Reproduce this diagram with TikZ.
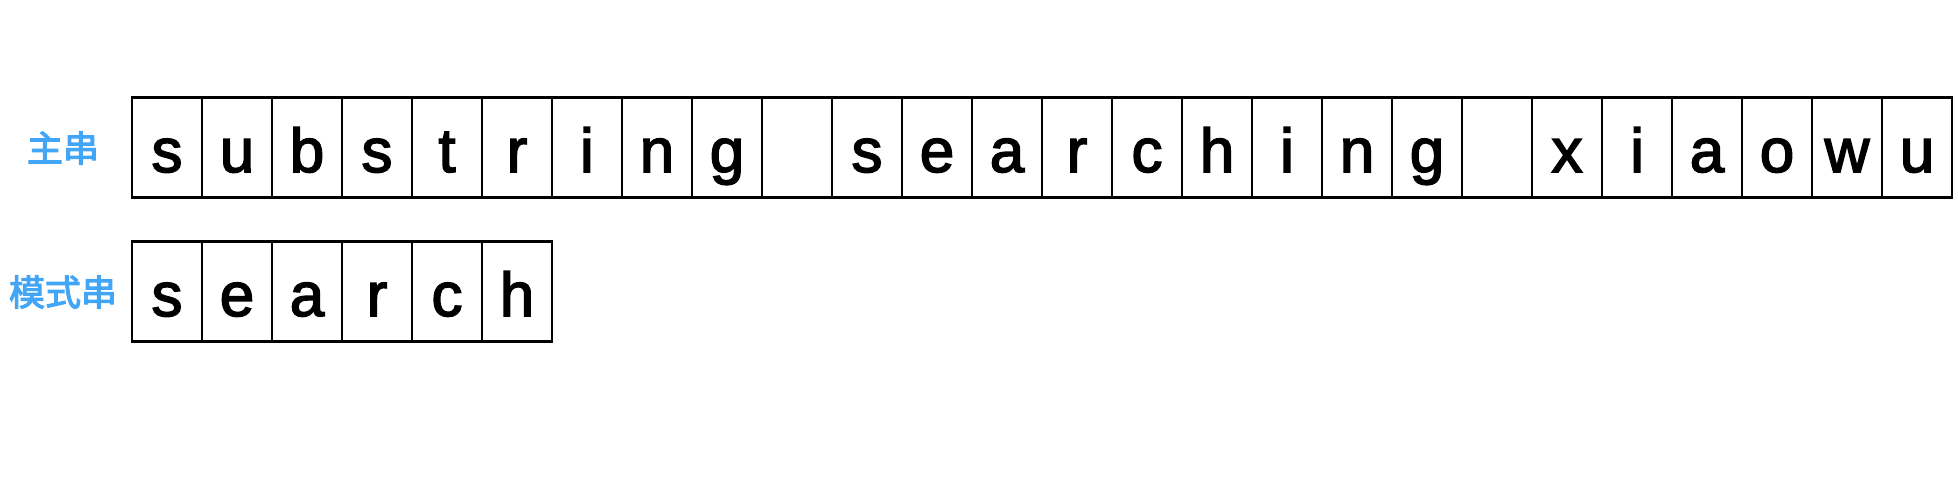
\documentclass[tikz,border=0pt]{standalone}
\usepackage{fontspec}
\setmainfont{Liberation Sans}[FakeBold=2.5]
\newfontfamily\cjk{Noto Sans CJK SC}[FakeBold=3]
\definecolor{labelblue}{RGB}{66,165,245}
\tikzset{
    cell/.style={rectangle,draw=black,line width=2.4pt,minimum width=70pt,inner sep=0,
        text height=74.5pt,text depth=25.5pt,font=\fontsize{62}{62}\selectfont},
    tag/.style={text=labelblue,inner sep=0,font=\cjk\fontsize{36}{36}\selectfont}
}
\begin{document}
\begin{tikzpicture}[x=1pt,y=-1pt]
    \useasboundingbox (0,0) rectangle (1958,486);
    % main string
    \foreach \c [count=\i from 0] in {s,u,b,s,t,r,i,n,g,{},s,e,a,r,c,h,i,n,g,{},x,i,a,o,w,u}
        \node[cell] (main\i) at (167+70*\i,147.5) {\c};
    % pattern
    \foreach \c [count=\i from 0] in {s,e,a,r,c,h}
        \node[cell] (pat\i) at (167+70*\i,291.5) {\c};
    \node[tag] (mainlabel) at (63,148) {主串};
    \node[tag] (patlabel) at (63,292) {模式串};
\end{tikzpicture}
\end{document}
